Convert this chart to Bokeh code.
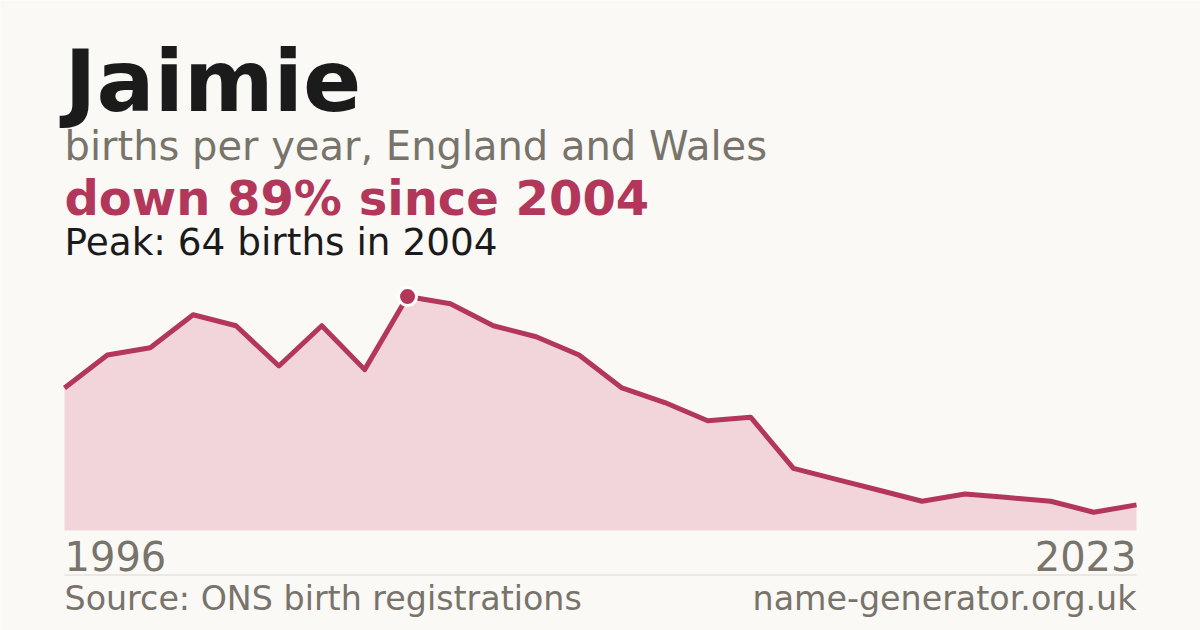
from bokeh.plotting import figure
from bokeh.models import Range1d, Label
from bokeh.embed import file_html
from bokeh.resources import INLINE

# ---- data ----
name = "Jaimie"
subtitle = "births per year, England and Wales"
change_text = "down 89% since 2004"
peak_text = "Peak: 64 births in 2004"
source_text = "Source: ONS birth registrations"
site_text = "name-generator.org.uk"
first_year = "1996"
last_year = "2023"
births = [39, 48, 50, 59, 56, 45, 56, 44, 64, 62, 56, 53, 48, 39, 35, 30, 31,
          17, 14, 11, 8, 10, 9, 8, 5, 7]
positions = list(range(len(births)))
peak_index = births.index(max(births))

# ---- style ----
BG = "#faf9f5"
RED = "#b3375a"
FILL = "#f1d5db"
DARK = "#1b1b1b"
GRAY = "#78736b"
RULE = "#dcd8d1"
FONT = "DejaVu Sans"

W, H = 1200, 630
L, R = 64, 1136
BASE, TOP = 530, 296
n = len(births) - 1
sx = (R - L) / n
ky = (BASE - TOP) / max(births)

p = figure(width=W, height=H, output_backend="svg", toolbar_location=None,
           x_range=Range1d(-L / sx, n + (W - R) / sx),
           y_range=Range1d(-(H - BASE) / ky, BASE / ky),
           x_axis_location=None, y_axis_location=None, min_border=0)
p.grid.visible = False
p.outline_line_color = None
p.background_fill_color = BG
p.border_fill_color = BG
p.extra_x_ranges = {"px": Range1d(0, W)}
p.extra_y_ranges = {"px": Range1d(H, 0)}

p.varea(x=positions, y1=[0] * len(births), y2=births, fill_color=FILL)
p.line(positions, births, line_width=5, line_color=RED, line_join="round")
p.scatter([positions[peak_index]], [births[peak_index]], size=18,
          fill_color=RED, line_color="white", line_width=3)

SHIFT = 0.37  # empirical baseline correction (fraction of font size)


def lab(text, x, y, size, color, bold=False, align="left"):
    p.add_layout(Label(x=x, y=y - SHIFT * size, x_range_name="px", y_range_name="px",
                       text=text, text_font=FONT, text_font_size=f"{size}px",
                       text_font_style="bold" if bold else "normal",
                       text_color=color, text_align=align,
                       text_baseline="alphabetic"))


lab(name, 64, 112, 86, DARK, bold=True)
lab(subtitle, 64, 160, 40, GRAY)
lab(change_text, 64, 215, 48, RED, bold=True)
lab(peak_text, 64, 255, 37.4, DARK)
lab(first_year, 64, 570, 40, GRAY)
lab(last_year, 1136, 570, 40, GRAY, align="right")
lab(source_text, 64, 610, 33.3, GRAY)
lab(site_text, 1136, 610, 33.3, GRAY, align="right")

p.segment(x0=[64], y0=[574.5], x1=[1136], y1=[574.5],
          line_color=RULE, line_width=1, x_range_name="px", y_range_name="px")

html = file_html(p, INLINE)
html = html.replace("<body>", f'<body style="background:{BG};margin:0">', 1)
open("out.html", "w").write(html)
